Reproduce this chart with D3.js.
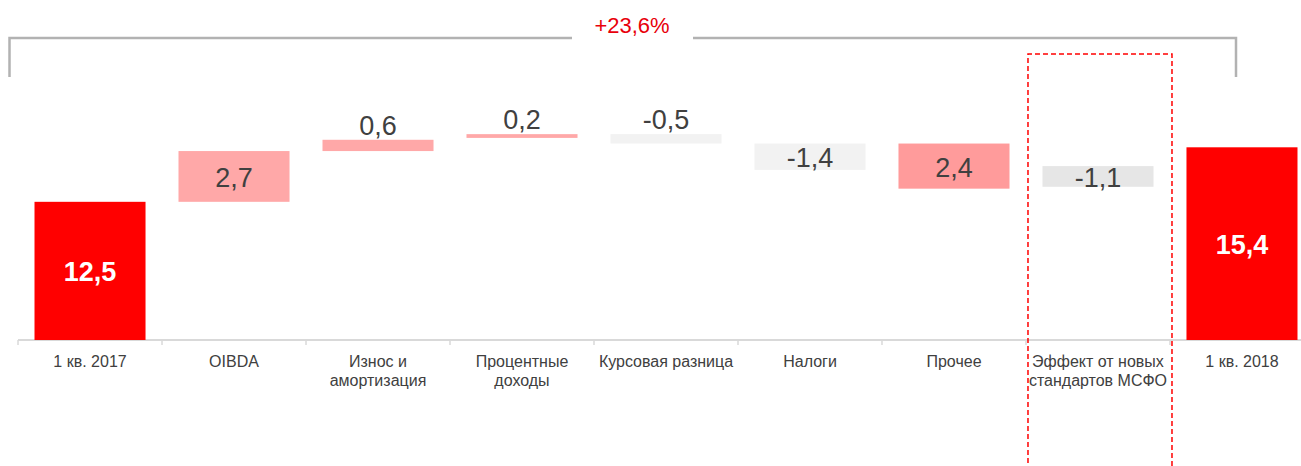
<!DOCTYPE html>
<html lang="ru">
<head>
<meta charset="UTF-8">
<title>Waterfall</title>
<script src="https://d3js.org/d3.v7.min.js"></script>
<style>
  body { margin: 0; background: #fff; }
  svg { display: block; font-family: "Liberation Sans", Arial, sans-serif; }
  .cat { font-size: 16px; fill: #404040; text-anchor: middle; }
  .val { font-size: 27px; fill: #404040; text-anchor: middle; }
  .tot { font-size: 27px; fill: #fff; font-weight: bold; text-anchor: middle; }
</style>
</head>
<body>
<div id="chart"></div>
<script>
const categories = ["1 кв. 2017", "OIBDA", "Износ и\nамортизация", "Процентные\nдоходы",
  "Курсовая разница", "Налоги", "Прочее", "Эффект от новых\nстандартов МСФО", "1 кв. 2018"];
const values = [12.5, 2.7, 0.6, 0.2, -0.5, -1.4, 2.4, -1.1, 15.4];
const bases = [null, 12.5, 15.2, 15.9, 16.1, 15.6, 13.2, 14.4, null];   // start of each floating bar
const kinds = ["total", "up", "up", "up", "down", "down", "other", "effect", "total"];
const labelAbove = [false, false, true, true, true, false, false, false, false];
const growthLabel = "+23,6%";

const width = 1301, height = 466;
const colors = { total: "#ff0000", up: "#ffa8a8", other: "#ff9b9b", down: "#f2f2f2", effect: "#e6e6e6" };
const fmt = v => String(v).replace(".", ",");

const svg = d3.select("#chart").append("svg")
  .attr("width", width).attr("height", height);

const x = d3.scaleBand().domain(categories).range([18, 18 + 144 * 9])
  .paddingInner(0.229).paddingOuter(0.1146);
const y = d3.scaleLinear().domain([5.15, 17]).range([340, 340 - 11.85 * 18.8]);
const y0 = y.domain()[0];
const pad = (x.step() - x.bandwidth()) / 2;

// axis line + ticks at band boundaries
svg.append("line")
  .attr("x1", x(categories[0]) - pad).attr("x2", width)
  .attr("y1", y(y0)).attr("y2", y(y0))
  .attr("stroke", "#d9d9d9").attr("stroke-width", 2);
svg.selectAll(".tick").data(categories).join("line")
  .attr("x1", d => x(d) - pad).attr("x2", d => x(d) - pad)
  .attr("y1", y(y0)).attr("y2", y(y0) + 5)
  .attr("stroke", "#d9d9d9").attr("stroke-width", 1.5);

// bars
const bars = categories.map((c, i) => {
  const a = kinds[i] === "total" ? y0 : bases[i];
  const b = kinds[i] === "total" ? values[i] : bases[i] + values[i];
  return { c, i, lo: Math.min(a, b), hi: Math.max(a, b) };
});

svg.selectAll(".bar").data(bars).join("rect")
  .attr("x", d => x(d.c))
  .attr("width", x.bandwidth())
  .attr("y", d => y(d.hi))
  .attr("height", d => y(d.lo) - y(d.hi))
  .attr("fill", d => colors[kinds[d.i]]);

// value labels
svg.selectAll(".lbl").data(bars).join("text")
  .attr("class", d => kinds[d.i] === "total" ? "tot" : "val")
  .attr("x", d => x(d.c) + x.bandwidth() / 2)
  .attr("y", d => labelAbove[d.i]
    ? y(d.hi) - 5
    : (y(d.hi) + y(d.lo)) / 2 + 10.5)
  .text(d => fmt(values[d.i]));

// category labels
svg.selectAll(".cat").data(categories).join("text")
  .attr("class", "cat")
  .attr("x", d => x(d) + x.bandwidth() / 2)
  .attr("y", 366.5)
  .selectAll("tspan").data(d => d.split("\n")).join("tspan")
  .attr("x", function () { return this.parentNode.getAttribute("x"); })
  .attr("dy", (d, i) => i ? 19 : 0)
  .text(d => d);

// dashed box around the IFRS effect column
const effect = categories[7];
svg.append("path")
  .attr("d", `M${x(effect) - pad + 2},${height + 5}V54H${x(effect) - pad + 2 + x.step()}V${height + 5}`)
  .attr("fill", "none").attr("stroke", "#ff0000")
  .attr("stroke-width", 1.5).attr("stroke-dasharray", "5,3");

// growth bracket
svg.append("path")
  .attr("d", "M9.5,77V38H572M693,38H1236V77")
  .attr("fill", "none").attr("stroke", "#b2b2b2").attr("stroke-width", 2.5);
svg.append("text")
  .attr("x", 632).attr("y", 33)
  .attr("text-anchor", "middle")
  .attr("font-size", 22).attr("fill", "#e8000b")
  .text(growthLabel);
</script>
</body>
</html>
